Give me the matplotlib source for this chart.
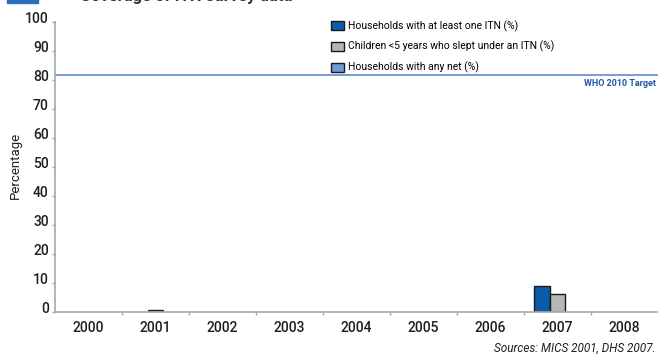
import matplotlib
matplotlib.use("Agg")
import matplotlib.pyplot as plt
import matplotlib.transforms as mtransforms
from matplotlib.patches import Patch
import numpy as np

plt.rcParams['font.family'] = ['Roboto', 'DejaVu Sans']

years = ['2000', '2001', '2002', '2003', '2004', '2005', '2006', '2007', '2008']
hh_itn = [0, 0, 0, 0, 0, 0, 0, 9.0, 0]          # Households with at least one ITN (%)
child_itn = [0, 0.5, 0, 0, 0, 0, 0, 6.2, 0]     # Children <5 years who slept under an ITN (%)
hh_any = [0, 0, 0, 0, 0, 0, 0, 0, 0]            # Households with any net (%)
series_labels = ['Households with at least one ITN (%)',
                 'Children <5 years who slept under an ITN (%)',
                 'Households with any net (%)']
target_value = 81.5
target_label = 'WHO 2010 Target'
y_ticks = [0, 10, 20, 30, 40, 50, 60, 70, 80, 90, 100]

c_blue = '#0a5cab'
c_gray = '#b5b6b8'
c_light = '#6e9bd6'
c_edge = '#1a1a1a'
c_axis = '#a8a8a8'
c_text = '#1e1e1e'

fig = plt.figure(figsize=(6.58, 3.56), dpi=100)
ax = fig.add_axes([55 / 658, 44.3 / 356, 603 / 658, 290 / 356])

x = np.arange(len(years))
w = 0.23
nonzero = lambda vals: [v if v > 0 else np.nan for v in vals]
ax.bar(x - w, nonzero(hh_itn), w, color=c_blue, edgecolor=c_edge, linewidth=1.0)
ax.bar(x, nonzero(child_itn), w, color=c_gray, edgecolor=c_edge, linewidth=1.0)
ax.bar(x + w, nonzero(hh_any), w, color=c_light, edgecolor=c_edge, linewidth=1.0)

ax.axhline(target_value, color='#6a93d8', linewidth=1.3, zorder=1)
ax.text(0.997, target_value - 1.3, target_label, transform=ax.get_yaxis_transform(),
        ha='right', va='top', fontsize=6.5, fontweight='bold', color='#1f55a5')

ax.set_xlim(-0.5, len(years) - 0.5)
ax.set_ylim(0, 100)
ax.set_yticks(y_ticks)
ax.set_yticklabels([str(v) for v in y_ticks])
ax.set_xticks(x)
ax.set_xticklabels(years)
ax.set_xticks(np.arange(0.5, len(years) - 0.5, 1), minor=True)

for side in ['top', 'right']:
    ax.spines[side].set_visible(False)
for side in ['left', 'bottom']:
    ax.spines[side].set_color(c_axis)
    ax.spines[side].set_linewidth(1.2)

ax.tick_params(axis='x', which='major', length=0, pad=7, labelsize=10, colors=c_text)
ax.tick_params(axis='x', which='minor', length=2.5, color=c_axis, width=1)
ax.tick_params(axis='y', which='major', length=2.5, color=c_axis, width=1,
               pad=2, labelsize=10, labelcolor=c_text)
for lab in ax.get_xticklabels() + ax.get_yticklabels():
    lab.set_fontweight('medium')

# lift the y tick labels slightly above their tick marks
offset = mtransforms.ScaledTranslation(0, 4 / 100, fig.dpi_scale_trans)
for lab in ax.get_yticklabels():
    lab.set_transform(lab.get_transform() + offset)

fig.text(15 / 658, 1 - 165 / 356, 'Percentage', rotation=90, ha='center', va='center',
         fontsize=9.5, color=c_text)

handles = [Patch(facecolor=c, edgecolor=c_edge, linewidth=1.0)
           for c in (c_blue, c_gray, c_light)]
fig.legend(handles, series_labels, loc='upper left',
           bbox_to_anchor=(329 / 658, 1 - 18 / 356), frameon=False,
           fontsize=7.5, handlelength=1.2, handleheight=0.9, handletextpad=0.4,
           labelspacing=0.9, borderaxespad=0, borderpad=0.2)

fig.text(656 / 658, 8 / 356, 'Sources: MICS 2001, DHS 2007.', ha='right', va='center',
         fontsize=8.5, style='italic', color=c_text)

# heading band at the top edge
fig.patches.append(plt.Rectangle((7 / 658, 1 - 3 / 356), 31 / 658, 4 / 356,
                                 transform=fig.transFigure, color='#2b6cc0'))
fig.text(80 / 658, 1 - 1.5 / 356, 'Coverage of ITN survey data', ha='left', va='baseline',
         fontsize=12, fontweight='bold', color='#333333')

fig.savefig('out.png', dpi=100)
